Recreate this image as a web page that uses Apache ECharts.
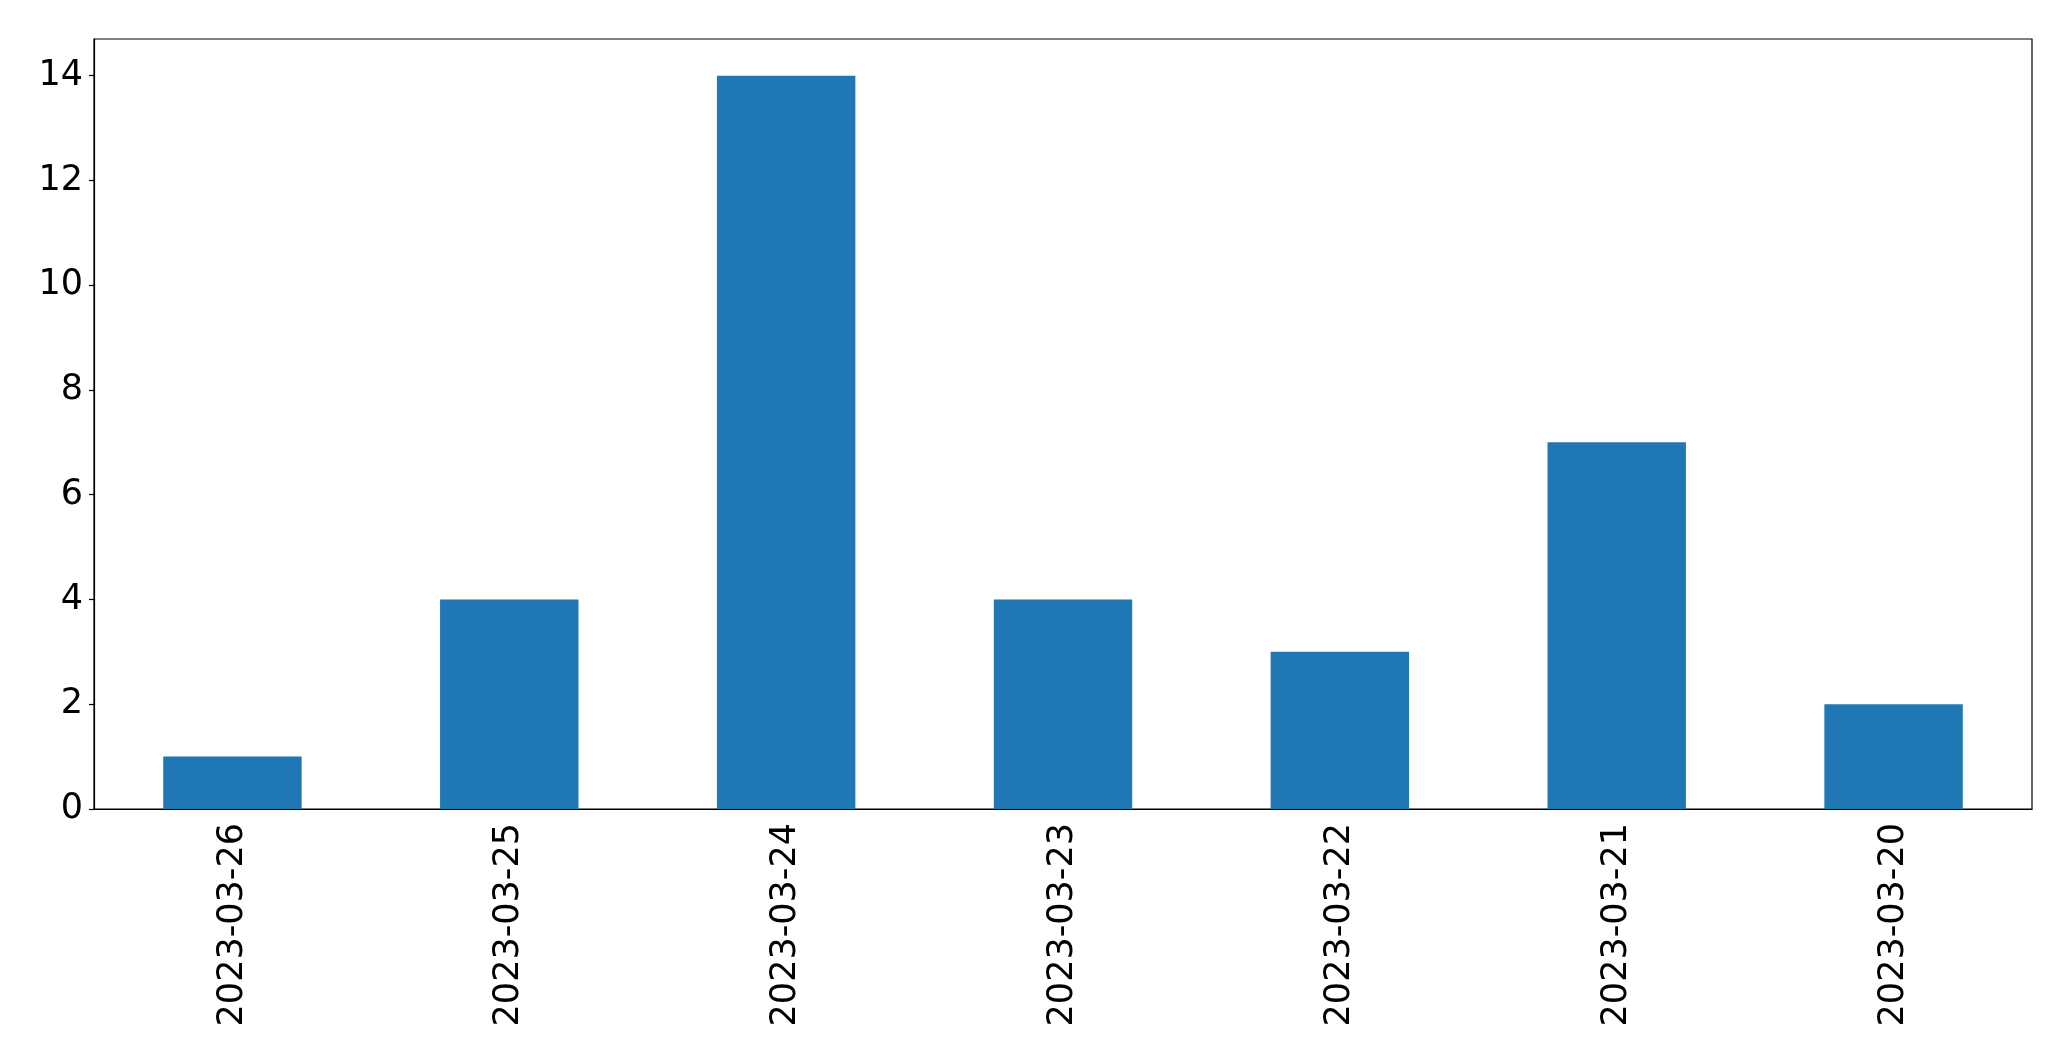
<!DOCTYPE html>
<html><head><meta charset="utf-8">
<script src="https://cdn.jsdelivr.net/npm/echarts@6/dist/echarts.min.js"></script>
<style>html,body{margin:0;padding:0;background:#fff}#c{width:2071px;height:1061px}</style>
</head><body><div id="c"></div>
<script>
const categories = ['2023-03-26','2023-03-25','2023-03-24','2023-03-23','2023-03-22','2023-03-21','2023-03-20'];
const values = [1, 4, 14, 4, 3, 7, 2];
const yTicks = [0, 2, 4, 6, 8, 10, 12, 14];

const chart = echarts.init(document.getElementById('c'), null, {renderer: 'canvas'});
const font = {fontFamily: 'DejaVu Sans', fontSize: 35, color: '#000'};
chart.setOption({
  animation: false,
  backgroundColor: '#fff',
  grid: {left: 94, right: 39, top: 39, bottom: 252, show: true, borderColor: '#000', borderWidth: 1.2, backgroundColor: 'transparent'},
  xAxis: {
    type: 'category', data: categories, boundaryGap: true,
    axisLine: {lineStyle: {color: '#000', width: 1.2}},
    axisTick: {alignWithLabel: true, length: 5, lineStyle: {color: '#000', width: 1.2}},
    axisLabel: Object.assign({rotate: 90, margin: 14, interval: 0}, font),
    splitLine: {show: false}
  },
  yAxis: {
    type: 'value', min: 0, max: 14.7,
    axisLine: {show: true, lineStyle: {color: '#000', width: 1.2}},
    axisTick: {show: true, length: 5, lineStyle: {color: '#000', width: 1.2}, customValues: yTicks},
    axisLabel: Object.assign({margin: 11, customValues: yTicks}, font),
    splitLine: {show: false}
  },
  series: [{
    type: 'bar', data: values, barWidth: '50%',
    itemStyle: {color: '#1f77b4'}
  }]
});
</script></body></html>
